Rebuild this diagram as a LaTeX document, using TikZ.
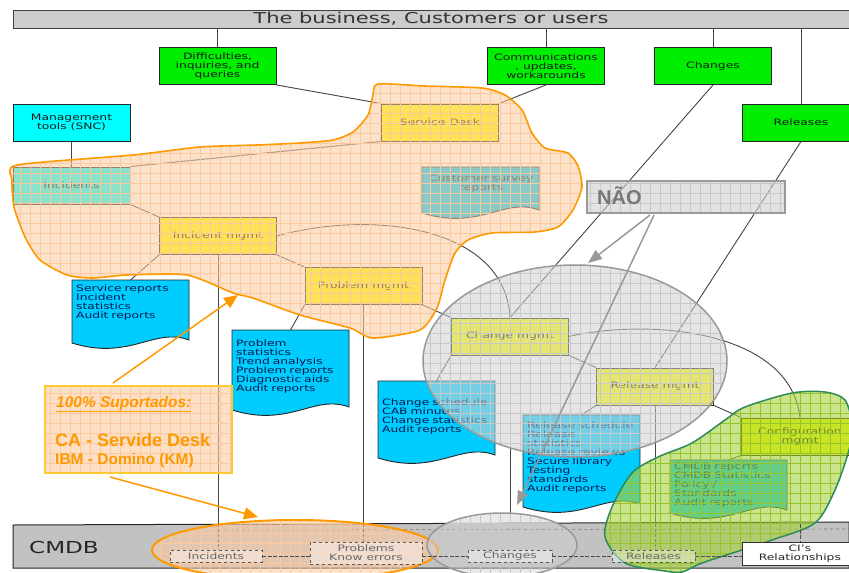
\documentclass[tikz,border=0pt]{standalone}
\usepackage{fontspec}
\setmainfont{DejaVu Sans}[FakeStretch=1.4]
\newfontfamily\arialf{Liberation Sans}
\usetikzlibrary{arrows.meta,patterns.meta,calc}
\definecolor{bannerfill}{HTML}{CCCCCC}
\definecolor{grn}{HTML}{00EE00}
\definecolor{cyn}{HTML}{00FFFF}
\definecolor{yel}{HTML}{FFFF00}
\definecolor{docblue}{HTML}{00CCFF}
\definecolor{peach}{HTML}{FDCBA0}
\definecolor{peachgrid}{HTML}{FAC9A0}
\definecolor{orng}{HTML}{FF9900}
\definecolor{callborder}{HTML}{FFC933}
\definecolor{grayreg}{HTML}{D0D0D0}
\definecolor{graygrid}{HTML}{C8C8C8}
\definecolor{grayedge}{HTML}{999999}
\definecolor{lime}{HTML}{A6D23C}
\definecolor{limegrid}{HTML}{96C42E}
\definecolor{limeedge}{HTML}{2E8B57}
\definecolor{navy}{HTML}{001A4D}
\definecolor{linec}{HTML}{444444}
\definecolor{cmdbgray}{HTML}{C2C2C2}
\definecolor{naotext}{HTML}{777777}
\newcommand{\docsh}[5]{%
  \path[dshape, fill=#5] (#2,#3) -- (#2+117,#3) -- (#2+117,#4-3)
     .. controls (#2+82,#4-16) and (#2+58,#4+18) .. (#2,#4) -- cycle;
  \coordinate (#1) at (#2+58.5,#3);}
\begin{document}
\begin{tikzpicture}[x=1pt,y=-1pt,
  conn/.style={draw=linec, line width=0.9pt},
  lbl/.style={font=\fontsize{8.8}{9}\selectfont},
  gbox/.style={draw=black!85, line width=0.9pt, fill=grn, minimum width=117pt, minimum height=37pt, inner sep=1pt, align=center, lbl, text=black!90},
  ybox/.style={gbox, fill=yel},
  cybox/.style={gbox, fill=cyn},
  banner/.style={draw=black!75, line width=1pt, fill=bannerfill, minimum width=836pt, minimum height=18pt, inner sep=0pt, font=\fontsize{15}{15}\selectfont, text=black!80},
  dtext/.style={anchor=north west, text width=110pt, inner xsep=4pt, inner ysep=0pt, align=left, font=\fontsize{8.8}{9}\selectfont, text=navy},
  dshape/.style={draw=black!85, line width=0.9pt},
  cmbox/.style={draw=black!65, dashed, line width=0.6pt, fill=white, fill opacity=0.4, text opacity=1, inner sep=0pt, align=center, font=\fontsize{8.8}{9}\selectfont, text=black!60},
  cmline/.style={draw=black!70, line width=0.8pt, dash pattern=on 4pt off 1.5pt},
  vdash/.style={draw=linec, line width=0.9pt, dash pattern=on 3pt off 2pt},
  gridpat/.style={pattern={Hatch[distance=10pt,angle=0,line width=0.6pt]}},
  naoarrow/.style={draw=grayedge, line width=1.5pt, -{Triangle[length=14pt,width=11pt]}},
  orarrow/.style={draw=orng, line width=1.5pt, -{Triangle[length=14pt,width=12pt]}}
]
\useasboundingbox (0,0) rectangle (849,573);
\fill[white] (0,0) rectangle (849,573);

% top banner and requests
\node[banner] (biz) at (431,19) {The business, Customers or users};
\node[gbox] (diff) at (217.5,66) {Difficulties,\\inquiries, and\\queries};
\node[gbox] (comm) at (546,66) {Communications\\, updates,\\workarounds};
\node[gbox] (chg) at (713,66) {Changes};
\node[gbox] (rel) at (801,122.5) {Releases};
\node[cybox] (mgmt) at (71.5,122.5) {Management\\tools (SNC)};

% process boxes
\node[ybox] (srvdesk) at (440,122.5) {Service Desk};
\node[cybox] (incid) at (71.5,185.5) {Incidents};
\node[ybox] (incmg) at (218,236) {Incident mgmt};
\node[ybox] (probmg) at (363.5,286) {Problem mgmt};
\node[ybox] (chgmg) at (510,336.5) {Change mgmt};
\node[ybox] (relmg) at (655,386.5) {Release mgmt};
\node[ybox] (confmg) at (800,436.5) {Configuration\\mgmt};

% documents
\docsh{custsurv}{422}{167}{213}{docblue}
\node[dtext, align=center, text=black!85] (custsurvt) at (422,175) {Customer survey\\reports};
\docsh{srep}{72}{280}{343}{docblue}
\node[dtext] (srept) at (72,285) {Service reports\\Incident\\statistics\\Audit reports};
\docsh{pstat}{232}{330}{410}{docblue}
\node[dtext] (pstatt) at (232,340) {Problem\\statistics\\Trend analysis\\Problem reports\\Diagnostic aids\\Audit reports};
\docsh{csched}{378}{381}{458}{docblue}
\node[dtext] (cschedt) at (378,399) {Change schedule\\CAB minutes\\Change statistics\\Audit reports};
\docsh{rsched}{523}{415}{507}{docblue}
\node[dtext] (rschedt) at (523,422) {Release schedule\\Release\\statistics\\Release reviews\\Secure library\\Testing\\standards\\Audit reports};
\docsh{cmdbrep}{670}{460}{513}{docblue}
\node[dtext] (cmdbrept) at (670,463) {CMDB reports\\CMDB Statistics\\Policy /\\Standards\\Audit reports};

% connectors
\coordinate (bartop) at (0,524);
\draw[conn] (biz.south -| diff.north) -- (diff.north);
\draw[conn] (biz.south -| comm.north) -- (comm.north);
\draw[conn] (biz.south -| chg.north) -- (chg.north);
\draw[conn] (biz.south -| rel.north) -- (rel.north);
\draw[conn] (mgmt.south) -- (incid.north);
\draw[conn] (diff.south east) -- (srvdesk.north west);
\draw[conn] (comm.south) -- (srvdesk.north east);
\draw[conn] (srvdesk.south west) -- (incid.north east);
\draw[conn] (srvdesk.south -| custsurv) -- (custsurv);
\draw[conn] (incid.south east) -- (incmg.north west);
\draw[conn] (incmg.south west) -- (srep);
\draw[conn] (incmg.south east) -- (probmg.north west);
\draw[conn] (incmg.east) .. controls (370,210) and (505,225) .. (chgmg.north);
\draw[conn] (chg.south) -- (chgmg.north);
\draw[conn] (probmg.south west) -- (pstat);
\draw[conn] (probmg.south east) -- (chgmg.north west);
\draw[conn] (chgmg.south west) -- (csched);
\draw[conn] (chgmg.east) .. controls (650,318) and (790,330) .. (confmg.north);
\draw[conn] (rel.south) -- (relmg.north);
\draw[conn] (chgmg.south east) -- (relmg.north west);
\draw[conn] (relmg.south west) -- (rsched);
\draw[conn] (relmg.south east) -- (confmg.north west);
\draw[conn] (confmg.south west) -- (cmdbrep);
\draw[conn] (incmg.south) -- (incmg.south |- bartop);
\draw[conn] (probmg.south) -- (probmg.south |- bartop);
\draw[conn] (chgmg.south) -- (chgmg.south |- bartop);
\draw[conn] (relmg.south) -- (relmg.south |- bartop);
\draw[conn] (confmg.south) -- (confmg.south |- bartop);

% CMDB bar
\path[draw=black!85, line width=1pt, fill=cmdbgray] (13,525) -- (849,522) -- (849,568) -- (13,568) -- cycle;
\draw[black!55, dashed, line width=0.6pt] (218,530) -- (849,529);
\node[font=\fontsize{16.5}{16.5}\selectfont, text=black!85] (cmdb) at (64,547) {CMDB};
\coordinate (cIncN) at (216,550);
\coordinate (cProbN) at (366,542);
\coordinate (cChgN) at (510,550);
\coordinate (cRelN) at (653.5,550);
\draw[vdash] (incmg.south |- bartop) -- (incmg.south |- cIncN);
\draw[vdash] (probmg.south |- bartop) -- (probmg.south |- cProbN);
\draw[vdash] (chgmg.south |- bartop) -- (chgmg.south |- cChgN);
\draw[vdash] (relmg.south |- bartop) -- (relmg.south |- cRelN);

% orange service desk region
\path[save path=\orpath] plot[smooth cycle, tension=0.4] coordinates {
 (17,165) (133,155) (200,147) (257,145) (300,143) (333,140) (353,132) (368,115)
 (373,95) (378,84) (425,86) (482,88) (505,95) (522,110) (532,133) (545,148)
 (568,153) (578,166) (582,187) (573,210) (558,227) (535,232) (492,233) (468,240)
 (455,253) (445,280) (437,308) (420,330) (373,338) (350,328) (300,315) (253,298)
 (233,293) (187,275) (127,275) (93,278) (67,275) (40,260) (25,237) (14,207) (12,180)};
\fill[peach, fill opacity=0.55, use path=\orpath];
\fill[gridpat, pattern color=peachgrid, fill opacity=0.6, use path=\orpath];
\draw[orng, line width=1.6pt, use path=\orpath];

% gray change/release region
\path[save path=\grpath] (575,361) ellipse [x radius=152, y radius=96];
\fill[grayreg, fill opacity=0.55, use path=\grpath];
\fill[gridpat, pattern color=graygrid, fill opacity=0.6, use path=\grpath];
\draw[grayedge, line width=1.5pt, use path=\grpath];

% green configuration region
\path[save path=\gnpath] plot[smooth cycle, tension=0.5] coordinates {
 (745,407) (792,393) (825,392) (845,400) (852,425) (849,450) (835,490) (815,523)
 (772,540) (742,550) (702,563) (682,572) (665,571) (625,563) (605,537) (612,507)
 (632,473) (658,457) (692,443) (725,420)};
\fill[lime, fill opacity=0.6, use path=\gnpath];
\fill[gridpat, pattern color=limegrid, fill opacity=0.6, use path=\gnpath];
\draw[limeedge, line width=1.5pt, use path=\gnpath];

% bottom ellipses
\path[save path=\obpath] (295,550) ellipse [x radius=143, y radius=30];
\fill[peach, fill opacity=0.55, use path=\obpath];
\fill[gridpat, pattern color=peachgrid, fill opacity=0.5, use path=\obpath];
\draw[orng, line width=2pt, use path=\obpath];
\path[save path=\gbpath] (502,545) ellipse [x radius=75, y radius=32];
\fill[grayreg, fill opacity=0.45, use path=\gbpath];
\fill[gridpat, pattern color=graygrid, fill opacity=0.5, use path=\gbpath];
\draw[grayedge, line width=1.5pt, use path=\gbpath];

% CMDB entries
\node[cmbox, minimum width=92pt, minimum height=12pt] (cInc) at (216,556) {Incidents};
\node[cmbox, minimum width=112pt, minimum height=22pt] (cProb) at (366,553) {Problems\\Know errors};
\node[cmbox, minimum width=84pt, minimum height=12pt] (cChg) at (510,556) {Changes};
\node[cmbox, minimum width=83pt, minimum height=12pt] (cRel) at (653.5,556) {Releases};
\node[draw=black!80, line width=0.8pt, fill=white, anchor=north west, minimum width=115pt, minimum height=23pt, inner sep=0pt, align=center, font=\fontsize{8.8}{9}\selectfont, text=black!85] (cCI) at (742,542) {CI's\\Relationships};
\draw[cmline] (cInc.east) -- (cInc.east -| cProb.west);
\draw[cmline] (cProb.east |- cChg.west) -- (cChg.west);
\draw[cmline] (cChg.east) -- (cRel.west);
\draw[cmline] (cRel.east) -- (cRel.east -| cCI.west);
\draw[cmline] (confmg.south |- bartop) -- (confmg.south |- cCI.north);

% NAO box and arrows
\path[save path=\napath] (587,181) rectangle (785,213);
\fill[grayreg, fill opacity=0.6, use path=\napath];
\fill[gridpat, pattern color=graygrid, fill opacity=0.6, use path=\napath];
\draw[grayedge, line width=1.5pt, use path=\napath];
\node[anchor=west, inner sep=0pt, font=\arialf\bfseries\fontsize{20}{20}\selectfont, text=naotext] (nao) at (597,196) {NÃO};
\coordinate (naos1) at (650,215);
\coordinate (naos2) at (654,215);
\coordinate (naotip1) at (588,263);
\coordinate (naotip2) at (517,505);
\draw[naoarrow] (naos1) -- (naotip1);
\draw[naoarrow] (naos2) -- (naotip2);

% callout
\path[save path=\capath] (45,386) rectangle (232,473);
\fill[peach, fill opacity=0.6, use path=\capath];
\fill[gridpat, pattern color=peachgrid, fill opacity=0.6, use path=\capath];
\draw[callborder, line width=1.5pt, use path=\capath];
\node[anchor=base west, inner sep=0pt, font=\arialf\bfseries\itshape\fontsize{15.5}{15.5}\selectfont, text=orng] (sup) at (56,407) {\underline{100\% Suportados:}};
\node[anchor=base west, inner sep=0pt, font=\arialf\bfseries\fontsize{18}{18}\selectfont, text=orng] (ca) at (55,446) {CA - Servide Desk};
\node[anchor=base west, inner sep=0pt, font=\arialf\bfseries\fontsize{15.5}{15.5}\selectfont, text=orng] (ibm) at (55,464) {IBM - Domino (KM)};
\coordinate (cas1) at (113,383);
\coordinate (catip1) at (238,295);
\coordinate (cas2) at (110,477);
\coordinate (catip2) at (258,517);
\draw[orarrow] (cas1) -- (catip1);
\draw[orarrow] (cas2) -- (catip2);
\end{tikzpicture}
\end{document}
